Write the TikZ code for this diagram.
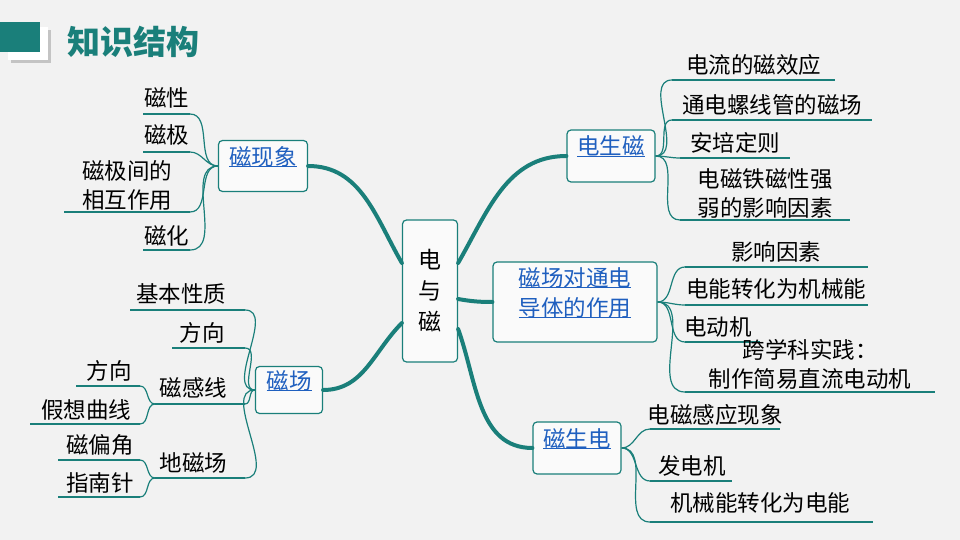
\documentclass[tikz,border=0pt]{standalone}
\usepackage{fontspec}
\setmainfont{Noto Sans CJK SC}
\usetikzlibrary{positioning, calc, shadows}
\definecolor{teal1}{HTML}{1A7F7A}
\definecolor{bg}{HTML}{F2F2F2}
\definecolor{link}{HTML}{1F5FBF}
\tikzset{
    limb/.style={draw=teal1, line width=4pt, line cap=round},
    twig/.style={draw=teal1, line width=1.2pt},
    box/.style={draw=teal1, line width=1.2pt, rounded corners=4pt, fill=white!60!bg, inner sep=5pt, align=center},
    leaf/.style={inner sep=0pt, align=center, font=\fontsize{22.5}{29}\selectfont},
}
\newcommand{\ul}[1]{\underline{\smash{#1}}}
\begin{document}
\begin{tikzpicture}[x=1pt, y=-1pt]
    \fill[bg] (0,0) rectangle (960,540);
    \useasboundingbox (0,0) rectangle (960,540);
    % title
    \fill[white, drop shadow={opacity=0.4}] (8,27) rectangle (48,60);
    \fill[teal1] (0,22) rectangle (40,52);
    \node[text=teal1, font=\fontsize{33}{36}\selectfont\bfseries, anchor=west] (title) at (64,42) {知识结构};
    % centre and main boxes
    \node[box, font=\fontsize{23}{31}\selectfont, minimum width=55pt, minimum height=142pt] (c) at (430,291) {电\\与\\磁};
    \node[box, text=link, font=\fontsize{22.5}{26}\selectfont, minimum width=89pt, minimum height=51pt] (mx) at (263,166) {\ul{磁现象}};
    \node[box, text=link, font=\fontsize{22.5}{26}\selectfont, minimum width=67pt, minimum height=47pt] (cc) at (289,390) {\ul{磁场}};
    \node[box, text=link, font=\fontsize{22.5}{26}\selectfont, minimum width=88pt, minimum height=52pt] (ds) at (611,156) {\ul{电生磁}};
    \node[box, text=link, font=\fontsize{22.5}{30}\selectfont, minimum width=164pt, minimum height=80pt] (zy) at (575,302) {\ul{磁场对通电}\\\ul{导体的作用}};
    \node[box, text=link, font=\fontsize{22.5}{26}\selectfont, minimum width=88pt, minimum height=52pt] (cs) at (577,448) {\ul{磁生电}};
    % main branches
    \draw[limb] ([yshift=28pt]c.west) to[out=120, in=0] (mx.east);
    \draw[limb] ([yshift=-32pt]c.west) to[out=-135, in=0] (cc.east);
    \draw[limb] ([yshift=28pt]c.east) to[out=60, in=180] (ds.west);
    \draw[limb] ([yshift=-8pt]c.east) to[out=-10, in=180] (zy.west);
    \draw[limb] ([yshift=-38pt]c.east) to[out=-70, in=180] (cs.west);
    % left: 磁现象
    \foreach \t/\ty/\uy/\ux [count=\i] in {磁性/98/114/143, 磁极/135/152/143, 磁极间的\\相互作用/185/212/64, 磁化/236/250/143}{
        \node[leaf] (a\i) at ($(\ux,\ty)!0.5!(190,\ty)$) {\t};
        \coordinate (a\i e) at (190,\uy);
        \draw[twig] (a\i e) -- (\ux,\uy);
        \draw[twig] (mx.west) to[out=180, in=0] (a\i e);
    }
    % left: 磁场
    \foreach \t/\ty/\uy/\ux [count=\i] in {基本性质/294/310/130, 方向/333/348/172, 磁感线/388/404/155, 地磁场/463/478/155}{
        \node[leaf] (b\i) at ($(\ux,\ty)!0.5!(232,\ty)$) {\t};
        \coordinate (b\i e) at (245,\uy);
        \draw[twig] (b\i e) -- (\ux,\uy);
        \draw[twig] (cc.west) to[out=180, in=0] (b\i e);
    }
    \foreach \t/\ty/\uy/\ux/\p [count=\i] in {方向/371/386/82/3, 假想曲线/410/424/36/3, 磁偏角/445/460/64/4, 指南针/483/497/64/4}{
        \node[leaf] (d\i) at ($(\ux,\ty)!0.5!(136,\ty)$) {\t};
        \coordinate (d\i e) at (140,\uy);
        \draw[twig] (d\i e) -- (\ux-6,\uy);
        \draw[twig] (155,\ifnum\p=3 404\else 478\fi) to[out=180, in=0] (d\i e);
    }
    % right: 电生磁
    \foreach \t/\ty/\uy/\ux/\uw [count=\i] in {电流的磁效应/65/80/672/835, 通电螺线管的磁场/105/120/672/872, 安培定则/143/158/680/790, 电磁铁磁性强\\弱的影响因素/193/220/680/850}{
        \node[leaf] (e\i) at ($(\ux,\ty)!0.5!(\uw,\ty)$) {\t};
        \coordinate (e\i s) at (\ux,\uy);
        \draw[twig] (e\i s) -- (\uw,\uy);
        \draw[twig] (ds.east) to[out=0, in=180] (e\i s);
    }
    % right: 磁场对通电导体的作用
    \foreach \t/\ty/\uy/\ux/\uw/\tx [count=\i] in {影响因素/252/267/685/868/776, 电能转化为机械能/289/305/685/868/776, 电动机/327/342/685/760/718, 跨学科实践：\\制作简易直流电动机/364/392/685/935/810}{
        \node[leaf] (f\i) at (\tx,\ty) {\t};
        \coordinate (f\i s) at (\ux,\uy);
        \draw[twig] (f\i s) -- (\uw,\uy);
        \draw[twig] (zy.east) to[out=0, in=180] (f\i s);
    }
    % right: 磁生电
    \foreach \t/\ty/\uy/\ux/\uw/\tx [count=\i] in {电磁感应现象/415/429/650/780/715, 发电机/466/481/650/732/692, 机械能转化为电能/503/522/650/873/760}{
        \node[leaf] (g\i) at (\tx,\ty) {\t};
        \coordinate (g\i s) at (\ux,\uy);
        \draw[twig] (g\i s) -- (\uw,\uy);
        \draw[twig] (cs.east) to[out=0, in=180] (g\i s);
    }
\end{tikzpicture}
\end{document}
